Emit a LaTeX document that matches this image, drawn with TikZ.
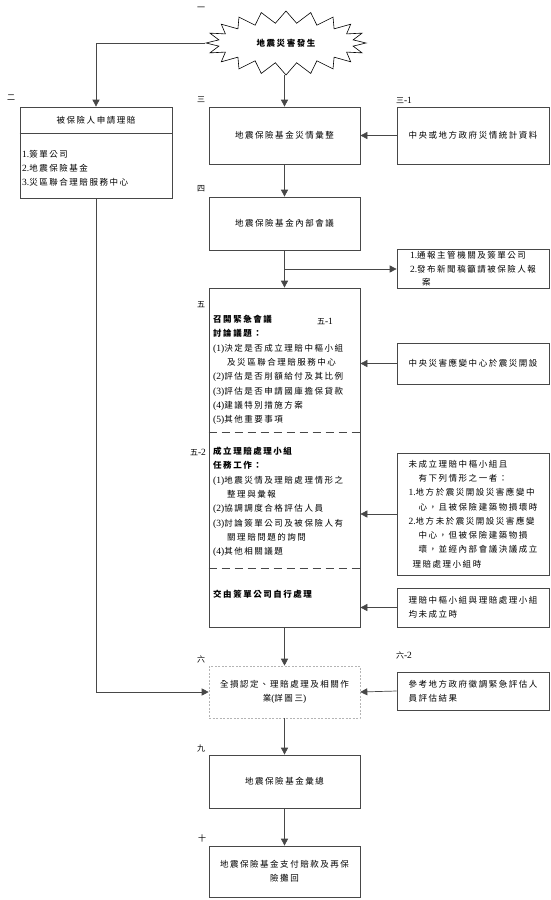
\documentclass[tikz,border=0pt]{standalone}
\usepackage{fontspec}
\setmainfont{Noto Sans CJK TC}[LetterSpace=18]
\newfontfamily\lat{Liberation Serif}
\newcommand{\lt}[1]{{\lat\fontsize{9.5}{14.3}\selectfont #1}}
\usetikzlibrary{arrows.meta,shapes.symbols}
\definecolor{lc}{HTML}{474747}
\definecolor{dc}{HTML}{B4B4B4}
\begin{document}
\begin{tikzpicture}[x=1pt,y=-1pt,font=\fontsize{8.5}{14.3}\selectfont,
  box/.style={draw=lc,line width=0.7pt,inner sep=2pt,fill=white},
  arr/.style={draw=lc,line width=0.7pt,-{Triangle[length=7pt,width=7pt]}},
  ln/.style={draw=lc,line width=0.7pt},
  lab/.style={font=\fontsize{8}{9}\selectfont,inner sep=0pt},
  txt/.style={align=left,inner sep=0pt,anchor=north west}]
\useasboundingbox (0,0) rectangle (550,900);

% labels
\node[lab] (l1) at (201,9) {一};
\node[lab] (l2) at (11,98) {二};
\node[lab] (l3) at (201,100) {三};
\node[lab] (l31) at (404,100) {三\lt{-1}};
\node[lab] (l4) at (201,189) {四};
\node[lab] (l5) at (201,305) {五};
\node[lab] (l52) at (198,452) {五\lt{-2}};
\node[lab] (l6) at (201,659) {六};
\node[lab] (l62) at (404,655) {六\lt{-2}};
\node[lab] (l9) at (201,748) {九};
\node[lab] (l10) at (202,838) {十};

% starburst
\node[starburst,draw=black,line width=0.6pt,fill=white,minimum width=160pt,minimum height=64pt,
  starburst points=20,starburst point height=12pt,random starburst=0,inner sep=0pt,
  font=\bfseries\fontsize{8.5}{10}\selectfont] (sb) at (286,43) {地震災害發生};

% box 2
\node[box,minimum width=152pt,minimum height=91pt] (b2) at (96,152.5) {};
\node[inner sep=0pt] (b2t) at (96,120) {被保險人申請理賠};
\draw[ln] (b2.west |- 0,133) coordinate (b2l) -- (b2.east |- 0,133) coordinate (b2r);
\node[txt] (b2list) at (22,150) {\lt{1.}簽單公司\\\lt{2.}地震保險基金\\\lt{3.}災區聯合理賠服務中心};

% main column
\node[box,minimum width=151pt,minimum height=57pt] (b3) at (284.5,135.5) {地震保險基金災情彙整};
\node[box,minimum width=152pt,minimum height=57pt] (b31) at (473,135.5) {中央或地方政府災情統計資料};
\node[box,minimum width=151pt,minimum height=53pt] (b4) at (284.5,223.5) {地震保險基金內部會議};
\node[box,minimum width=152pt,minimum height=38pt,align=left,font=\fontsize{8.5}{13.5}\selectfont] (b41) at (473,269)
  {\lt{1.}通報主管機關及簽單公司\\\lt{2.}發布新聞稿籲請被保險人報\\\hspace*{12pt}案};
\node[box,minimum width=151pt,minimum height=339pt] (b5) at (284.5,457.5) {};
\draw[ln,dashed,dash pattern=on 8pt off 5pt] (b5.west |- 0,432) coordinate (d1l) -- (b5.east |- 0,432) coordinate (d1r);
\draw[ln,dashed,dash pattern=on 8pt off 5pt] (b5.west |- 0,568) coordinate (d2l) -- (b5.east |- 0,568) coordinate (d2r);
\node[txt] (s1) at (213,315) {\textbf{召開緊急會議}\\\textbf{討論議題：}\\\lt{(1)}決定是否成立理賠中樞小組\\\hspace*{14pt}及災區聯合理賠服務中心\\\lt{(2)}評估是否削額給付及其比例\\\lt{(3)}評估是否申請國庫擔保貸款\\\lt{(4)}建議特別措施方案\\\lt{(5)}其他重要事項};
\node[lab] (l51) at (325,321) {五\lt{-1}};
\node[txt] (s2) at (213,447) {\textbf{成立理賠處理小組}\\\textbf{任務工作：}\\\lt{(1)}地震災情及理賠處理情形之\\\hspace*{14pt}整理與彙報\\\lt{(2)}協調調度合格評估人員\\\lt{(3)}討論簽單公司及被保險人有\\\hspace*{14pt}關理賠問題的詢問\\\lt{(4)}其他相關議題};
\node[txt] (s3) at (213,590) {\textbf{交由簽單公司自行處理}};

\node[box,minimum width=152pt,minimum height=41pt] (b51) at (473,363.5) {中央災害應變中心於震災開設};
\node[box,minimum width=152pt,minimum height=122pt,align=left] (b52) at (473,514)
  {未成立理賠中樞小組且\\\hspace*{10pt}有下列情形之一者：\\\lt{1.}地方於震災開設災害應變中\\\hspace*{10pt}心，且被保險建築物損壞時\\\lt{2.}地方未於震災開設災害應變\\\hspace*{10pt}中心，但被保險建築物損\\\hspace*{10pt}壞，並經內部會議決議成立\\\hspace*{4pt}理賠處理小組時};
\node[box,minimum width=152pt,minimum height=39pt,align=left] (b53) at (473,607.5)
  {理賠中樞小組與理賠處理小組\\均未成立時};

\node[draw=dc,dashed,dash pattern=on 2pt off 1.5pt,line width=0.6pt,minimum width=151pt,minimum height=52pt,align=center] (b6) at (284.5,692)
  {全損認定、理賠處理及相關作\\業\lt{(}詳圖三\lt{)}};
\node[box,minimum width=152pt,minimum height=38pt,align=left] (b62) at (473,691)
  {參考地方政府徵調緊急評估人\\員評估結果};
\node[box,minimum width=151pt,minimum height=53pt] (b9) at (284.5,781.5) {地震保險基金彙總};
\node[box,minimum width=151pt,minimum height=51pt,align=center] (b10) at (284.5,871.5)
  {地震保險基金支付賠款及再保\\險攤回};

% connectors
\draw[arr] (sb.west) -| (b2.north);
\draw[arr] (b3.north |- sb.south) -- (b3.north);
\draw[arr] (b31.west) -- (b3.east);
\draw[arr] (b3.south) -- (b4.north);
\draw[arr] (b4.south) -- (b5.north);
\coordinate (br) at (b4.south |- b41.west);
\draw[arr] (br) -- (b41.west);
\draw[arr] (b51.west) -- (b5.east |- b51.west);
\draw[arr] (b52.west) -- (b5.east |- b52.west);
\draw[arr] (b53.west) -- (b5.east |- b53.west);
\draw[arr] (b5.south) -- (b6.north);
\draw[arr] (b2.south) |- (b6.west);
\draw[arr] (b62.west) -- (b6.east);
\draw[arr] (b6.south) -- (b9.north);
\draw[arr] (b9.south) -- (b10.north);
\end{tikzpicture}
\end{document}
